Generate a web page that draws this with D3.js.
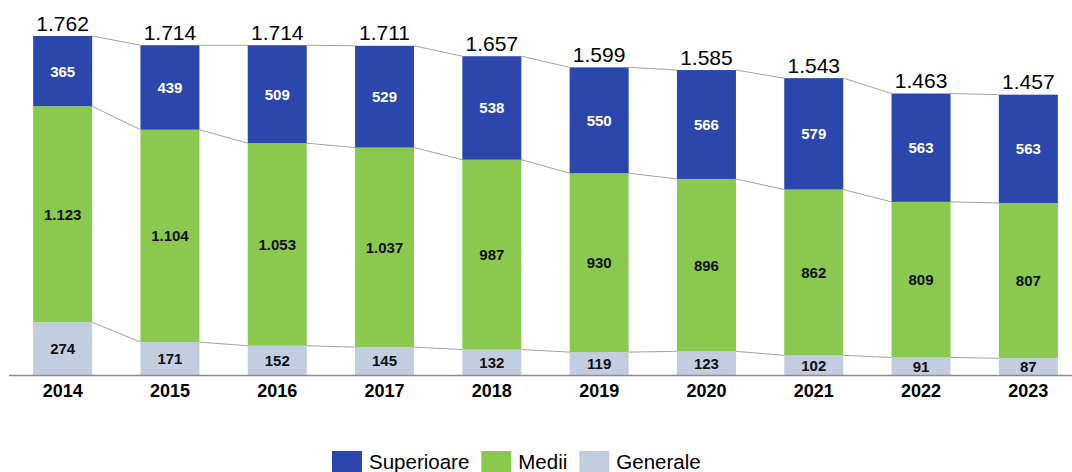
<!DOCTYPE html>
<html>
<head>
<meta charset="utf-8">
<script src="https://cdn.jsdelivr.net/npm/d3@7"></script>
<style>
  html, body { margin: 0; padding: 0; background: #fff; }
  svg { display: block; font-family: "Liberation Sans", Arial, sans-serif; }
</style>
</head>
<body>
<div id="chart"></div>
<script>
"use strict";
// valori din grafic
const years = ["2014","2015","2016","2017","2018","2019","2020","2021","2022","2023"];
const generale   = [274, 171, 152, 145, 132, 119, 123, 102, 91, 87];
const medii      = [1123, 1104, 1053, 1037, 987, 930, 896, 862, 809, 807];
const superioare = [365, 439, 509, 529, 538, 550, 566, 579, 563, 563];
const seriesNames = ["Generale", "Medii", "Superioare"];
const colors = {"Superioare": "#2b47ab", "Medii": "#8bc850", "Generale": "#c2cde0"};
const labelColors = {"Superioare": "#fff", "Medii": "#111", "Generale": "#111"};

const width = 1072, height = 472, baseY = 375;

const ro = d3.formatLocale({decimal: ",", thousands: ".", grouping: [3], currency: ["", ""]});
const fmt = ro.format(",d");

const rows = years.map((y, i) => ({year: y, Generale: generale[i], Medii: medii[i], Superioare: superioare[i]}));
const stacked = d3.stack().keys(seriesNames)(rows);
const totals = rows.map(r => r.Generale + r.Medii + r.Superioare);

const svg = d3.select("#chart").append("svg")
    .attr("width", width).attr("height", height);

const x = d3.scaleBand()
    .domain(years)
    .range([9, 1082])
    .paddingInner(0.45)
    .paddingOuter(0.225);

const y = d3.scaleLinear()
    .domain([0, d3.max(totals)])
    .range([baseY, 36]);

// linii de legatura intre bare
const links = svg.append("g").attr("fill", "none").attr("stroke", "#8a8a8a").attr("stroke-width", 0.8);
stacked.forEach(s => {
    for (let i = 0; i < years.length - 1; i++) {
        links.append("line")
            .attr("x1", x(years[i]) + x.bandwidth())
            .attr("y1", y(s[i][1]))
            .attr("x2", x(years[i + 1]))
            .attr("y2", y(s[i + 1][1]));
    }
});

// bare
const layers = svg.selectAll(".layer").data(stacked).enter()
    .append("g").attr("class", "layer").attr("fill", d => colors[d.key]);
layers.selectAll("rect").data(d => d).enter().append("rect")
    .attr("x", d => x(d.data.year))
    .attr("y", d => y(d[1]))
    .attr("width", x.bandwidth())
    .attr("height", d => y(d[0]) - y(d[1]));

// etichete segmente
stacked.forEach(s => {
    svg.append("g").selectAll("text").data(s).enter().append("text")
        .attr("x", d => x(d.data.year) + x.bandwidth() / 2)
        .attr("y", d => (y(d[0]) + y(d[1])) / 2)
        .attr("dy", "0.36em")
        .attr("text-anchor", "middle")
        .attr("font-size", "15px")
        .attr("font-weight", "bold")
        .attr("fill", labelColors[s.key])
        .text(d => fmt(d.data[s.key]));
});

// totaluri
svg.append("g").selectAll("text").data(rows).enter().append("text")
    .attr("x", d => x(d.year) + x.bandwidth() / 2)
    .attr("y", (d, i) => y(totals[i]) - 5.5)
    .attr("text-anchor", "middle")
    .attr("font-size", "21px")
    .attr("fill", "#000")
    .text((d, i) => fmt(totals[i]));

// axa x
const axis = svg.append("g").attr("transform", `translate(0,${baseY})`)
    .call(d3.axisBottom(x).tickSize(0).tickPadding(9));
axis.select(".domain").attr("d", `M9,0.5H1072`).attr("stroke", "#8c8c8c").attr("stroke-width", 1.6);
axis.selectAll("text")
    .attr("font-family", "'Liberation Sans', Arial, sans-serif")
    .attr("font-size", "18px").attr("font-weight", "bold").attr("fill", "#000");

// legenda
const legend = svg.append("g").attr("transform", "translate(332,451)");
let lx = 0;
["Superioare", "Medii", "Generale"].forEach(k => {
    legend.append("rect").attr("x", lx).attr("y", 0).attr("width", 30).attr("height", 21).attr("fill", colors[k]);
    const t = legend.append("text").attr("x", lx + 37).attr("y", 18)
        .attr("font-size", "20.5px").attr("fill", "#000").text(k);
    lx += 37 + t.node().getComputedTextLength() + 12;
});
</script>
</body>
</html>
